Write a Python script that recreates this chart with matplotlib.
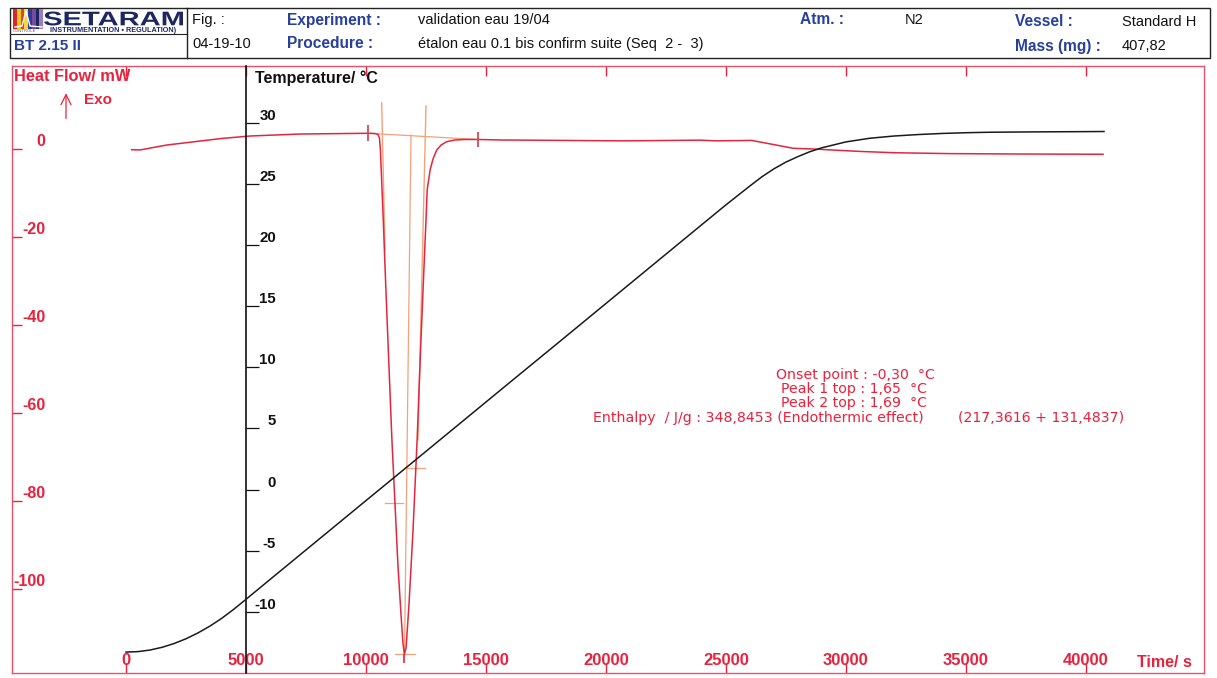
import matplotlib
matplotlib.use("Agg")
import matplotlib.pyplot as plt
from matplotlib.patches import Rectangle, PathPatch
from matplotlib.lines import Line2D
from matplotlib.textpath import TextPath
from matplotlib.font_manager import FontProperties
from matplotlib.transforms import Affine2D

plt.rcParams['font.family'] = ['Liberation Sans', 'DejaVu Sans']

# ---------------- data ----------------
x_ticks = [0, 5000, 10000, 15000, 20000, 25000, 30000, 35000, 40000]
hf_ticks = [0, -20, -40, -60, -80, -100]
temp_ticks = [-10, -5, 0, 5, 10, 15, 20, 25, 30]

# temperature curve (s, degC)
temp_time = [0, 500, 1000, 1500, 2000, 2500, 3000, 3500, 4000, 4500, 5000, 6000, 8000,
             10000, 12000, 14000, 16000, 18000, 20000, 22000, 24000, 25000, 26000,
             26500, 27000, 27500, 28000, 28500, 29000, 30000, 31000, 32000, 33000,
             34000, 35000, 36000, 38000, 40000, 40750]
temp_vals = [-13.3, -13.26, -13.13, -12.91, -12.6, -12.21, -11.73, -11.17, -10.52, -9.78,
             -8.98, -7.36, -4.13, -0.9, 2.32, 5.55, 8.78, 12.0, 15.23, 18.46, 21.69,
             23.3, 24.85, 25.6, 26.25, 26.8, 27.25, 27.65, 27.97, 28.45, 28.75, 28.93,
             29.05, 29.14, 29.2, 29.24, 29.27, 29.29, 29.3]

# heat flow curve (s, mW)
hf_time = [240, 580, 1000, 1700, 3080, 4000, 5170, 7250, 8900, 10080,
           10380, 10500, 10560, 10600, 10660, 10720, 10790, 10880, 10980, 11080,
           11210, 11330, 11460, 11540, 11600, 11670, 11790, 11960, 12130, 12290,
           12420, 12500, 12550, 12670, 12790, 12950, 13130, 13360, 13710, 14130,
           14670, 15580, 18080, 20720, 23920, 24610, 26070, 26700, 27800, 28640,
           29600, 30580, 32000, 34330, 37130, 40710]
hf_vals = [-0.16, -0.23, 0.2, 0.9, 1.8, 2.4, 2.95, 3.4, 3.5, 3.57,
           3.52, 3.3, 2.5, -0.2, -8.2, -16.1, -26.4, -38.9, -52.5, -66.1,
           -80.9, -94.5, -105.9, -112.3, -114.8, -113.4, -103.6, -86.6, -66.1, -43.4,
           -26.4, -16.1, -9.3, -4.8, -2.3, -0.2, 0.9, 1.66, 2.05, 2.16,
           2.16, 2.05, 1.95, 1.85, 2.0, 1.85, 1.95, 1.3, 0.16, 0.0,
           -0.28, -0.55, -0.85, -1.05, -1.14, -1.2]

# integration helpers (s, mW)
base_t = [10080, 14670]
base_v = [3.57, 2.16]
tan1_t = [10654, 10792]
tan1_v = [10.45, -22.95]
tan2_t = [12500, 12167]
tan2_v = [9.77, -66.1]
mid_t = [11875, 11604]
mid_v = [3.18, -114.8]
hmark_t = [[10792, 11542], [11708, 12458], [11208, 12042]]
hmark_v = [-80.5, -72.5, -114.8]
lim_t = [10083, 14667]
lim_lo = [1.82, 0.45]
lim_hi = [5.45, 3.86]
peak_t = 11604
peak_lo, peak_hi = -116.8, -114.8

# ---------------- styling ----------------
RED = '#e8213d'
FRAME = '#e8506c'
ORANGE = '#f2a27a'
BLUE = '#26409c'
NAVY = '#1c2660'
W, H = 1217, 678

fig = plt.figure(figsize=(W / 100, H / 100), dpi=100)
fig.patch.set_facecolor('white')

def fx(px):
    return px / W

def fy(py):
    return 1 - py / H

ax = fig.add_axes([fx(12), fy(673), (1204 - 12) / W, (673 - 66) / H])
ax.set_xlim(-4750, 44917)
ax.set_ylim(-119.09, 18.86)
for s in ax.spines.values():
    s.set_color(FRAME)
    s.set_linewidth(1.0)

ax.set_xticks(x_ticks)
ax.set_xticklabels([str(v) for v in x_ticks])
ax.tick_params(axis='x', direction='in', length=7, width=1, colors=RED, top=True,
               labeltop=False, pad=-14.5, labelsize=12)
for lab in ax.get_xticklabels():
    lab.set_fontweight('bold')

ax.set_yticks(hf_ticks)
ax.set_yticklabels([str(v) for v in hf_ticks])
ax.tick_params(axis='y', direction='in', length=7, width=1, colors=RED, pad=-24,
               labelsize=11.5)
for lab in ax.get_yticklabels():
    lab.set_fontweight('bold')
    lab.set_va('bottom')

# heat flow curve and helpers
ax.plot(hf_time, hf_vals, color='#e3263f', lw=1.1, zorder=4)
ax.plot(base_t, base_v, color=ORANGE, lw=0.9, zorder=3)
ax.plot(tan1_t, tan1_v, color=ORANGE, lw=1.0, zorder=3)
ax.plot(tan2_t, tan2_v, color=ORANGE, lw=1.0, zorder=3)
ax.plot(mid_t, mid_v, color=ORANGE, lw=0.9, zorder=3)
for tt, vv in zip(hmark_t, hmark_v):
    ax.plot(tt, [vv, vv], color=ORANGE, lw=0.9, zorder=3)
ax.vlines(lim_t, lim_lo, lim_hi, color='#d04a5e', lw=1.3, zorder=5)
ax.vlines([peak_t], [peak_lo], [peak_hi], color=RED, lw=1.2, zorder=5)

# axis titles
ax.text(-4667, 16.4, 'Heat Flow/ mW', color=RED, fontsize=11.8, fontweight='bold',
        ha='left', va='center')
ax.annotate('', xy=(-2500, 13.3), xytext=(-2500, 6.3),
            arrowprops=dict(arrowstyle='->', color=RED, lw=0.9, mutation_scale=18))
ax.text(-1750, 11.1, 'Exo', color=RED, fontsize=11, fontweight='bold',
        ha='left', va='center')
ax.text(5375, 16.1, 'Temperature/ °C', color='#111111', fontsize=11.5, fontweight='bold',
        ha='left', va='center')
ax.text(42125, -116.6, 'Time/ s', color=RED, fontsize=11.5, fontweight='bold',
        ha='left', va='center')

# result annotation
ann_kw = dict(color=RED, fontsize=10.2, ha='left', va='center', family='DejaVu Sans')
ax.text(27083, -51.4, 'Onset point : -0,30  °C', **ann_kw)
ax.text(27292, -54.66, 'Peak 1 top : 1,65  °C', **ann_kw)
ax.text(27292, -57.84, 'Peak 2 top : 1,69  °C', **ann_kw)
ax.text(19458, -61.14, 'Enthalpy  / J/g : 348,8453 (Endothermic effect)', **ann_kw)
ax.text(34667, -61.14, '(217,3616 + 131,4837)', **ann_kw)

# temperature axis
ax2 = ax.twinx()
ax2.set_ylim(-15.01, 34.66)
for s in ['left', 'top', 'bottom']:
    ax2.spines[s].set_visible(False)
ax2.spines['right'].set_position(('data', 5000))
ax2.spines['right'].set_color('#111111')
ax2.spines['right'].set_linewidth(1.2)
ax2.set_yticks(temp_ticks)
ax2.set_yticklabels([str(v) for v in temp_ticks])
ax2.tick_params(axis='y', direction='out', length=9.5, width=0.9, colors='#111111',
                pad=12, labelsize=10.8)
for lab in ax2.get_yticklabels():
    lab.set_fontweight('bold')
    lab.set_ha('right')
    lab.set_va('bottom')
ax2.plot(temp_time, temp_vals, color='#1a1a1a', lw=1.1, zorder=3)

# ---------------- header ----------------
fig.add_artist(Rectangle((fx(10), fy(58)), 1200 / W, 50 / H, transform=fig.transFigure,
                         fill=False, ec='#222222', lw=1.0))
fig.add_artist(Line2D([fx(187), fx(187)], [fy(8), fy(58)], transform=fig.transFigure,
                      color='#222222', lw=1.0))
fig.add_artist(Line2D([fx(10), fx(187)], [fy(34), fy(34)], transform=fig.transFigure,
                      color='#222222', lw=0.8))

# logo stripes
stripe_cols = ['#d8262a', '#f3c31f', '#e0432c', '#f6d54a', '#2d3b9a', '#7a4aa0',
               '#1c2660', '#9a7cc0']
sw = 30 / len(stripe_cols)
for i, c in enumerate(stripe_cols):
    fig.add_artist(Rectangle((fx(13 + i * sw), fy(29)), sw / W, 20 / H,
                             transform=fig.transFigure, fc=c, ec='none'))
fig.add_artist(Line2D([fx(15), fx(22), fx(26), fx(30), fx(42)],
                      [fy(27), fy(26), fy(11), fy(26), fy(27)],
                      transform=fig.transFigure, color='white', lw=1.0))

tp = TextPath((0, 0), 'SETARAM', size=100,
              prop=FontProperties(family='Liberation Sans', weight='bold'))
bb = tp.get_extents()
tr = (Affine2D().translate(-bb.x0, -bb.y0)
      .scale(139 / bb.width, 14 / bb.height).translate(44, H - 25.5))
fig.add_artist(PathPatch(tp, transform=tr, fc=NAVY, ec='none'))
fig.text(fx(50), fy(30), 'INSTRUMENTATION • REGULATION)', fontsize=5.2,
         fontweight='bold', color=NAVY, ha='left', va='center')
fig.text(fx(13), fy(31), 'CONTRÔLE', fontsize=3, color='#555555', ha='left', va='center')
fig.text(fx(14), fy(46), 'BT 2.15 II', fontsize=11, fontweight='bold', color=BLUE,
         ha='left', va='center')

hdr = dict(fontsize=10.5, ha='left', va='center')
hdrb = dict(fontsize=11.2, ha='left', va='center', fontweight='bold', color=BLUE)
fig.text(fx(192), fy(20), 'Fig. :', color='#111111', **hdr)
fig.text(fx(192), fy(44), '04-19-10', color='#111111', **hdr)
fig.text(fx(287), fy(20), 'Experiment :', **hdrb)
fig.text(fx(287), fy(44), 'Procedure :', **hdrb)
fig.text(fx(418), fy(20), 'validation eau 19/04', color='#111111', **hdr)
fig.text(fx(418), fy(44), 'étalon eau 0.1 bis confirm suite (Seq  2 -  3)',
         color='#111111', **hdr)
fig.text(fx(800), fy(20), 'Atm. :', **hdrb)
fig.text(fx(905), fy(20), 'N2', color='#111111', **hdr)
fig.text(fx(1015), fy(21), 'Vessel :', **hdrb)
fig.text(fx(1122), fy(22), 'Standard H', color='#111111', **hdr)
fig.text(fx(1015), fy(46), 'Mass (mg) :', **hdrb)
fig.text(fx(1122), fy(46), '407,82', color='#111111', **hdr)

fig.savefig('out.png', dpi=100, facecolor='white')
